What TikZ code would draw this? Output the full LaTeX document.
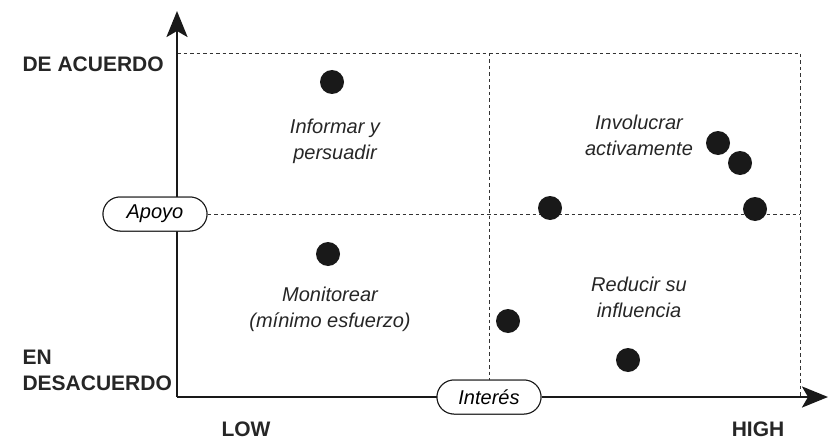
\documentclass[tikz,border=0pt]{standalone}
\usepackage{fontspec}
\setmainfont{Liberation Sans}
\usetikzlibrary{arrows.meta,shapes.misc}
\begin{document}
\begin{tikzpicture}[x=1pt,y=-1pt,
  axis/.style={line width=2.8pt,draw=black!90},
  tip/.style={-{Stealth[length=26pt,width=21pt,inset=6pt]}},
  grid/.style={line width=0.9pt,draw=black!80,dash pattern=on 3.5pt off 3pt},
  pill/.style={rounded rectangle,draw=black!90,line width=1pt,fill=white,
     minimum width=104pt,minimum height=34pt,inner sep=0pt,font=\fontsize{20}{22}\selectfont\itshape},
  dot/.style={circle,fill=black!90,minimum size=24pt,inner sep=0pt},
  lab/.style={align=center,font=\fontsize{20}{26}\selectfont\itshape,text=black!85},
  ax/.style={font=\fontsize{21}{26}\selectfont\bfseries,text=black!85}]
\useasboundingbox (0,0) rectangle (829,441);
\coordinate (O) at (177,397);
\coordinate (ytop) at (177,11);
\coordinate (xend) at (828,397);
\coordinate (tl) at (177,53);
\coordinate (tr) at (800,53);
\coordinate (br) at (800,397);
\coordinate (tm) at (489,53);
\coordinate (mr) at (800,214);
% grid
\draw[grid] (tl) -- (tr) -- (br);
\node[pill] (int) at (489,397) {Interés};
\node[pill] (apo) at (155,214) {Apoyo};
\draw[grid] (tm) -- (int.north);
\draw[grid] (apo.east) -- (mr);
% axes
\draw[axis,tip] (O) -- (ytop);
\draw[axis] (O) -- (int.west);
\draw[axis,tip] (int.east) -- (xend);
\node[pill] (apo2) at (155,214) {Apoyo};
\node[pill] (int2) at (489,397) {Interés};
% dots
\node[dot] (d1) at (332,82) {};
\node[dot] (d2) at (328,254) {};
\node[dot] (d3) at (550,208) {};
\node[dot] (d4) at (718,143) {};
\node[dot] (d5) at (740,163) {};
\node[dot] (d6) at (755,209) {};
\node[dot] (d7) at (508,321) {};
\node[dot] (d8) at (628,360) {};
% labels
\node[lab] (l1) at (335,141) {Informar y\\persuadir};
\node[lab] (l2) at (330,309) {Monitorear\\(mínimo esfuerzo)};
\node[lab] (l3) at (639,135) {Involucrar\\activamente};
\node[lab] (l4) at (639,297) {Reducir su\\influencia};
\node[ax,anchor=west] (da) at (19,64) {DE ACUERDO};
\node[ax,anchor=west,align=left] (ed) at (19,370) {EN\\DESACUERDO};
\node[ax] (low) at (246,429) {LOW};
\node[ax] (high) at (758,429) {HIGH};
\end{tikzpicture}
\end{document}
